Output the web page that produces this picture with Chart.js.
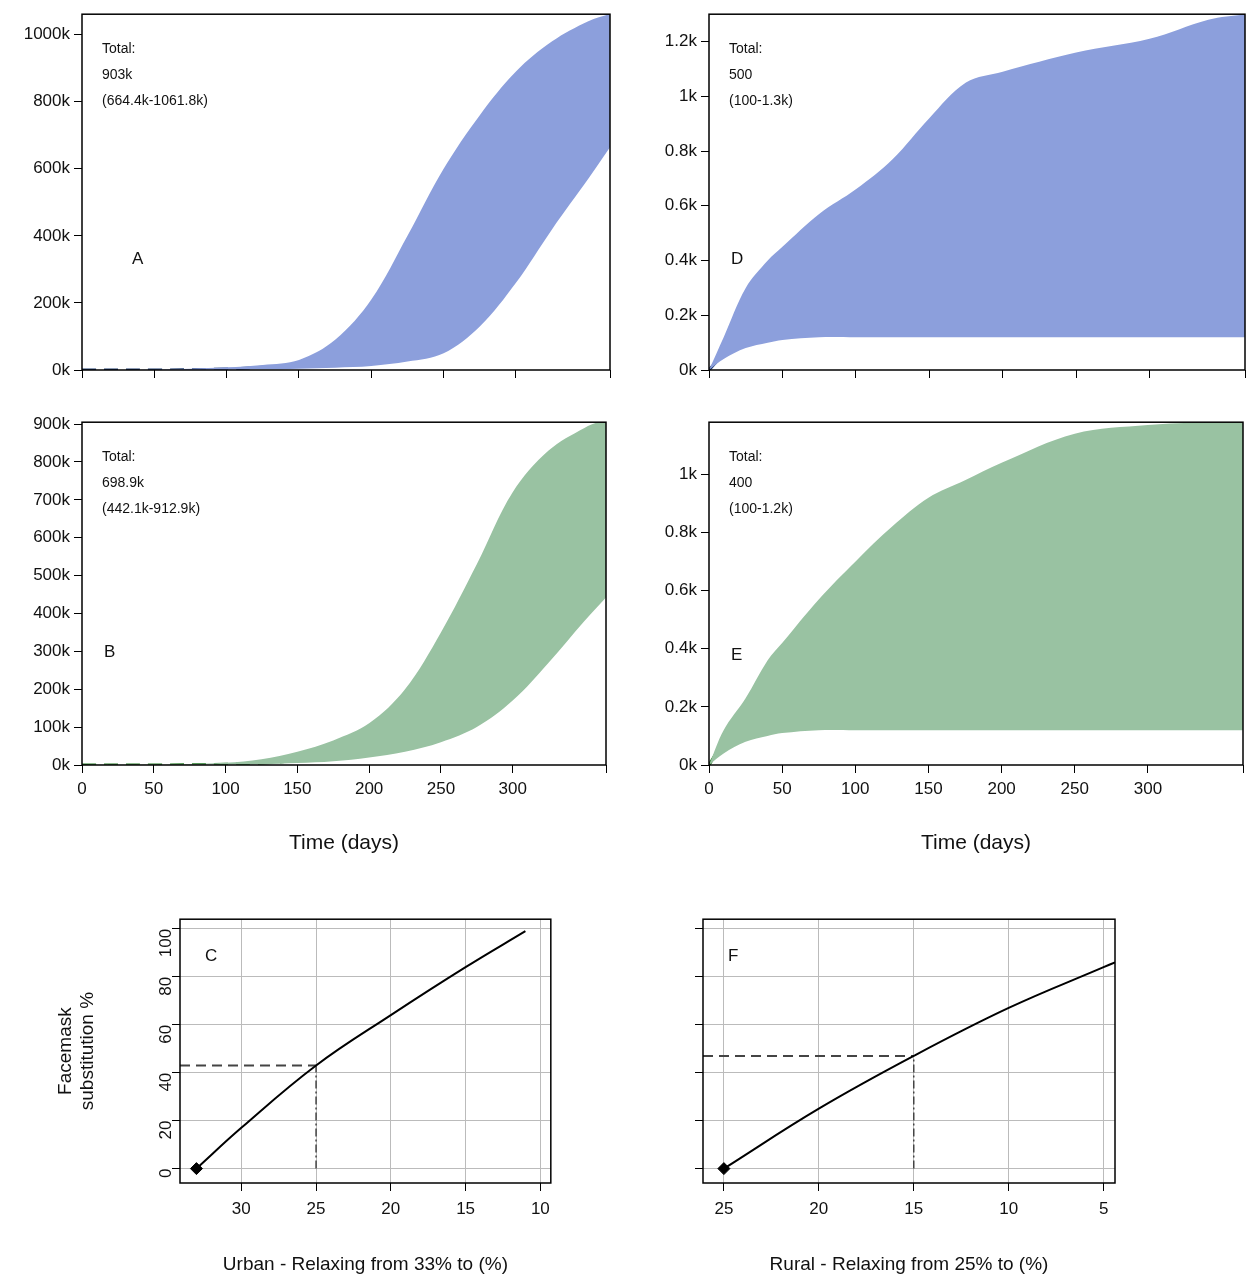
<!DOCTYPE html>
<html><head><meta charset="utf-8">
<script src="https://cdn.jsdelivr.net/npm/chart.js@4.4.1/dist/chart.umd.min.js"></script>
<style>body{margin:0;background:#fff;width:1250px;height:1280px;position:relative;overflow:hidden}canvas{position:absolute}</style>
</head><body>
<canvas id="cA"></canvas><canvas id="cD"></canvas><canvas id="cB"></canvas><canvas id="cE"></canvas><canvas id="cC"></canvas><canvas id="cF"></canvas>
<script>
// ---- data ----
const daysA = [0,50,100,125,150,175,200,225,250,275,300,325,350,365];
const urbanMedian = [0,0,3,8,15,35,80,170,330,480,640,770,860,903];
const urbanUpper  = [0,1,8,15,30,90,210,400,600,760,890,980,1040,1062];
const urbanLower  = [0,0,1,2,4,7,12,25,50,130,260,420,570,664];
const daysB = [0,50,100,125,150,175,200,225,250,275,300,325,350,365];
const ruralMedian = [0,0,2,5,12,25,45,80,150,250,390,520,630,699];
const ruralUpper  = [0,1,6,15,35,65,110,200,350,530,720,830,890,913];
const ruralLower  = [0,0,1,2,5,10,20,35,60,100,170,270,380,442];
const daysD = [0,10,25,40,50,75,100,125,150,175,200,250,300,340,365];
const urbanDeathMed = [0,0.06,0.15,0.22,0.26,0.34,0.40,0.44,0.46,0.47,0.475,0.48,0.48,0.48,0.48];
const urbanDeathUp  = [0,0.12,0.3,0.4,0.45,0.57,0.66,0.77,0.92,1.05,1.09,1.16,1.21,1.28,1.3];
const urbanDeathLo  = [0,0.04,0.08,0.1,0.11,0.12,0.12,0.12,0.12,0.12,0.12,0.12,0.12,0.12,0.12];
const daysE = [0,10,25,40,50,75,100,125,150,175,200,250,300,340,365];
const ruralDeathMed = [0,0.08,0.17,0.22,0.24,0.29,0.34,0.38,0.40,0.40,0.40,0.40,0.40,0.40,0.40];
const ruralDeathUp  = [0,0.12,0.23,0.36,0.42,0.57,0.70,0.82,0.92,0.98,1.04,1.14,1.17,1.18,1.18];
const ruralDeathLo  = [0,0.04,0.08,0.1,0.11,0.12,0.12,0.12,0.12,0.12,0.12,0.12,0.12,0.12,0.12];
const urbanRelax = [33,30,25,20,15,11];
const urbanMask  = [0,17,43,64,84,99];
const ruralRelax = [25,20,15,10,5,4.4];
const ruralMask  = [0,25,47,67,84,86];
const urbanPoint = 25, urbanPointMask = 43;
const ruralPoint = 15, ruralPointMask = 47;
const textA = ['Total:','903k','(664.4k-1061.8k)'];
const textB = ['Total:','698.9k','(442.1k-912.9k)'];
const textD = ['Total:','500','(100-1.3k)'];
const textE = ['Total:','400','(100-1.2k)'];

const FONT = 'Liberation Sans, Arial, sans-serif';
const xy = (xs, ys) => xs.map((x,i)=>({x, y: ys[i]}));

const boxPlugin = {
  id:'box',
  afterDraw(c, a, o){
    const {ctx, chartArea:ca} = c;
    ctx.save();
    ctx.strokeStyle='#000'; ctx.lineWidth=1.5;
    ctx.strokeRect(ca.left, ca.top, ca.right-ca.left, ca.bottom-ca.top);
    if (o.lines){
      ctx.fillStyle='#111'; ctx.font='14px '+FONT; ctx.textBaseline='top';
      o.lines.forEach((t,i)=>ctx.fillText(t, ca.left+20, ca.top+28+i*26));
    }
    if (o.letter){
      ctx.fillStyle='#111'; ctx.font='17px '+FONT; ctx.textBaseline='middle';
      ctx.fillText(o.letter, ca.left+o.lx, ca.top+o.ly);
    }
    ctx.restore();
  }
};

function place(id, left, top, w, h){
  const c=document.getElementById(id);
  c.style.left=left+'px'; c.style.top=top+'px';
  c.width=w; c.height=h; c.style.width=w+'px'; c.style.height=h+'px';
  return c;
}

function bandChart(id, geo, days, med, up, lo, fillCol, lineCol, ymax, yStep, yFmt, showX, opts){
  const c = place(id, geo.left, geo.top, geo.w, geo.h);
  new Chart(c, {
    type:'line',
    data:{datasets:[
      {data:xy(days,up), borderWidth:0, pointRadius:0, backgroundColor:fillCol, fill:'+1', tension:0.35},
      {data:xy(days,lo), borderWidth:0, pointRadius:0, backgroundColor:fillCol, fill:false, tension:0.35},
      {data:xy(days,med), borderColor:lineCol, borderWidth:3, borderDash:[14,8], pointRadius:0, fill:false, tension:0.35}
    ]},
    options:{
      responsive:false, animation:false, devicePixelRatio:1,
      layout:{padding:{top:geo.pt, right:geo.pr, left:0, bottom:0}},
      plugins:{legend:{display:false}, tooltip:{enabled:false}, box:opts},
      scales:{
        x:{type:'linear', min:0, max:365, afterFit:s=>{s.height=geo.xh;},
           ticks:{stepSize:50, display:showX, color:'#111', font:{size:17,family:FONT}, padding:6,
                  callback:v=>v<=350?v:''},
           grid:{drawOnChartArea:false, tickLength:8, color:'#000'}, border:{display:false},
           title:{display:showX, text:'Time (days)', color:'#111', font:{size:21,family:FONT}, padding:{top:8}}},
        y:{min:0, max:ymax, afterFit:s=>{s.width=geo.yw;},
           afterBuildTicks:s=>{const t=[];for(let v=0;v<=ymax+1e-9;v+=yStep)t.push({value:+v.toFixed(4)});s.ticks=t;},
           ticks:{color:'#111', font:{size:17,family:FONT}, padding:4, callback:yFmt},
           grid:{drawOnChartArea:false, tickLength:8, color:'#000'}, border:{display:false}}
      }
    },
    plugins:[boxPlugin]
  });
}

const kFmt = v => Math.round(v)+'k';
const dFmt = v => (+v.toFixed(1))+'k';

bandChart('cA',{left:0,top:0,w:612,h:390,pt:3,pr:2,yw:82,xh:20},daysA,urbanMedian,urbanUpper,urbanLower,'#8c9fdc','#1c3a6e',1061,200,kFmt,false,{lines:textA,letter:'A',lx:50,ly:245});
bandChart('cD',{left:639,top:0,w:610,h:390,pt:3,pr:4,yw:70,xh:20},daysD,urbanDeathMed,urbanDeathUp,urbanDeathLo,'#8c9fdc','#1c3a6e',1.3,0.2,dFmt,false,{lines:textD,letter:'D',lx:22,ly:245});
bandChart('cB',{left:0,top:408,w:612,h:452,pt:10,pr:2,yw:82,xh:95},daysB,ruralMedian,ruralUpper,ruralLower,'#99c2a2','#237a23',905,100,kFmt,true,{lines:textB,letter:'B',lx:22,ly:230});
bandChart('cE',{left:639,top:408,w:610,h:452,pt:10,pr:4,yw:70,xh:95},daysE,ruralDeathMed,ruralDeathUp,ruralDeathLo,'#99c2a2','#237a23',1.18,0.2,dFmt,true,{lines:textE,letter:'E',lx:22,ly:233});

function maskChart(id, geo, xs, ys, px, py, xmin, xmax, xticks, showY, yTitle, xTitle, letter){
  const c = place(id, geo.left, geo.top, geo.w, geo.h);
  new Chart(c, {
    type:'line',
    data:{datasets:[
      {data:xy(xs,ys), borderColor:'#000', borderWidth:2, pointRadius:0, tension:0.4},
      {data:[{x:xmax,y:py},{x:px,y:py}], borderColor:'#444', borderWidth:2, borderDash:[10,6], pointRadius:0},
      {data:[{x:px,y:0},{x:px,y:py}], borderColor:'#444', borderWidth:1.5, borderDash:[8,3,2,3], pointRadius:0},
      {data:[{x:xs[0],y:ys[0]}], pointStyle:'rectRot', pointRadius:6, backgroundColor:'#000', borderColor:'#000', showLine:false}
    ]},
    options:{
      responsive:false, animation:false, devicePixelRatio:1,
      layout:{padding:{top:geo.pt, right:geo.pr, left:0, bottom:0}},
      plugins:{legend:{display:false}, tooltip:{enabled:false}, box:{letter, lx:25, ly:37}},
      scales:{
        x:{type:'linear', reverse:true, min:xmin, max:xmax, afterFit:s=>{s.height=geo.xh;},
           afterBuildTicks:s=>{s.ticks=xticks.map(v=>({value:v}));},
           ticks:{color:'#111', font:{size:17,family:FONT}, padding:8},
           grid:{color:'#bbb', borderDash:[2,3], tickLength:8, tickColor:'#000'}, border:{display:false},
           title:{display:true, text:xTitle, color:'#111', font:{size:19,family:FONT}, padding:{top:22}}},
        y:{min:-6, max:104, afterFit:s=>{s.width=geo.yw;},
           afterBuildTicks:s=>{const t=[];for(let v=0;v<=100;v+=20)t.push({value:v});s.ticks=t;},
           ticks:{display:true, color:showY?'#111':'rgba(0,0,0,0)', font:{size:17,family:FONT}, padding:6, minRotation:90, maxRotation:90},
           grid:{color:'#bbb', borderDash:[2,3], tickLength:8, tickColor:'#000'}, border:{display:false},
           title:{display:!!yTitle, text:yTitle, color:'#111', font:{size:19,family:FONT}, padding:{bottom:18}}}
      }
    },
    plugins:[boxPlugin]
  });
}

maskChart('cC',{left:50,top:903,w:508,h:377,pt:10,pr:2,yw:130,xh:97},urbanRelax,urbanMask,urbanPoint,urbanPointMask,9.3,34.1,[30,25,20,15,10],true,['Facemask','substitution %'],'Urban - Relaxing from 33% to (%)','C');
maskChart('cF',{left:680,top:903,w:442,h:377,pt:10,pr:2,yw:23,xh:97},ruralRelax,ruralMask,ruralPoint,ruralPointMask,4.4,26.1,[25,20,15,10,5],false,'','Rural - Relaxing from 25% to (%)','F');
</script>
</body></html>
